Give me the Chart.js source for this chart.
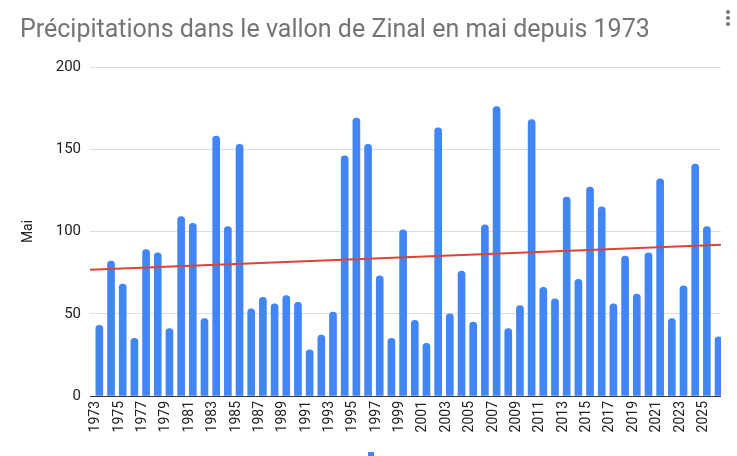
<!DOCTYPE html>
<html><head><meta charset="utf-8">
<script src="https://cdn.jsdelivr.net/npm/chart.js@4"></script>
<style>html,body{margin:0;padding:0;background:#fff;overflow:hidden}canvas{display:block}</style>
</head><body>
<canvas id="c" width="737" height="456"></canvas>
<script>
const years = ["1973","1974","1975","1976","1977","1978","1979","1980","1981","1982","1983","1984","1985","1986","1987","1988","1989","1990","1991","1992","1993","1994","1995","1996","1997","1998","1999","2000","2001","2002","2003","2004","2005","2006","2007","2008","2009","2010","2011","2012","2013","2014","2015","2016","2017","2018","2019","2020","2021","2022","2023","2024","2025","2026"];
const mai = [43,82,68,35,89,87,41,109,105,47,158,103,153,53,60,56,61,57,28,37,51,146,169,153,73,35,101,46,32,163,50,76,45,104,176,41,55,168,66,59,121,71,127,115,56,85,62,87,132,47,67,141,103,36];
const trendStart = 76.8;
const trendEnd = 92.0;
const yTicks = [0, 50, 100, 150, 200];
const titleText = "Précipitations dans le vallon de Zinal en mai depuis 1973";
const yTitle = "Mai";

const deco = {
  id: 'deco',
  afterDraw(chart) {
    const ctx = chart.ctx;
    ctx.save();
    ctx.fillStyle = '#757575';
    [12, 18, 24].forEach(y => { ctx.beginPath(); ctx.arc(728, y, 2, 0, Math.PI * 2); ctx.fill(); });
    ctx.fillStyle = '#4285F4';
    ctx.fillRect(368, 452, 6, 4);
    ctx.restore();
  }
};

new Chart(document.getElementById('c'), {
  data: {
    labels: years,
    datasets: [
      {
        type: 'line', label: 'Tendance', xAxisID: 'xt', order: 0,
        data: [{x: 0, y: trendStart}, {x: 1, y: trendEnd}],
        borderColor: '#DB4437', borderWidth: 2, pointRadius: 0, fill: false, tension: 0
      },
      {
        type: 'bar', label: yTitle, order: 1, data: mai, xAxisID: 'x',
        backgroundColor: '#4285F4', barThickness: 7,
        borderRadius: {topLeft: 3.5, topRight: 3.5}, borderSkipped: 'start'
      }
    ]
  },
  options: {
    responsive: false, animation: false, devicePixelRatio: 1,
    layout: {padding: {left: 20, right: 15, top: 0, bottom: 0}},
    plugins: {
      legend: {display: false}, tooltip: {enabled: false},
      title: {
        display: true, text: titleText, align: 'start', color: '#757575',
        font: {family: 'Roboto', size: 25, weight: 'normal'}, padding: {top: 16, bottom: 21}
      }
    },
    scales: {
      x: {
        type: 'category', offset: true,
        grid: {display: false, drawTicks: false},
        border: {display: true, color: '#333333', width: 1},
        ticks: {
          autoSkip: false, maxRotation: 90, minRotation: 90, padding: 5,
          color: '#222222', font: {family: 'Roboto', size: 14},
          callback: function(v, i) { return i % 2 === 0 ? years[i] : ''; }
        },
        afterFit(s) { s.height = 60; }
      },
      xt: {type: 'linear', min: 0, max: 1, display: false},
      y: {
        min: 0, max: 200,
        afterBuildTicks(s) { s.ticks = yTicks.map(v => ({value: v})); },
        grid: {color: '#dddddd', drawTicks: false},
        border: {display: false},
        ticks: {color: '#222222', font: {family: 'Roboto', size: 15}, padding: 9},
        title: {display: true, text: yTitle, color: '#222222', font: {family: 'Roboto', size: 14}, padding: 0},
        afterFit(s) { s.width = 70; }
      }
    }
  },
  plugins: [deco]
});
</script>
</body></html>
